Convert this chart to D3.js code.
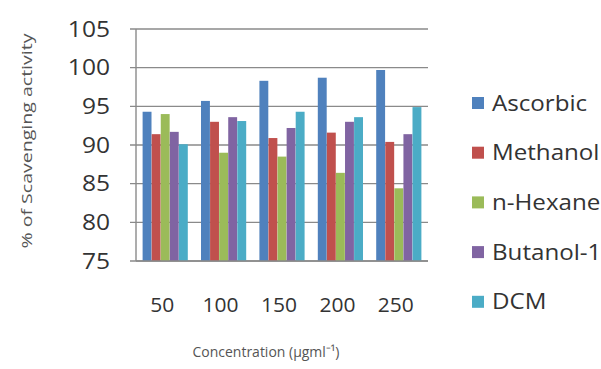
<!DOCTYPE html>
<html>
<head>
<meta charset="utf-8">
<script src="https://cdn.jsdelivr.net/npm/d3@7"></script>
<style>
  html, body { margin: 0; padding: 0; background: #fff; }
  svg { display: block; }
</style>
</head>
<body>
<svg id="chart" width="601" height="369"></svg>
<script>
// Concentrations (µg/ml) and scavenging activity (%) per extract
const concentrations = ["50", "100", "150", "200", "250"];
const seriesNames = ["Ascorbic", "Methanol", "n-Hexane", "Butanol-1", "DCM"];
const ascorbic  = [94.3, 95.7, 98.3, 98.7, 99.7];
const methanol  = [91.4, 93.0, 90.9, 91.6, 90.4];
const hexane    = [94.0, 89.0, 88.5, 86.4, 84.4];
const butanol   = [91.7, 93.6, 92.2, 93.0, 91.4];
const dcm       = [90.1, 93.1, 94.3, 93.6, 94.9];
const yTicks    = [75, 80, 85, 90, 95, 100, 105];
const colors    = ["#4F81BD", "#C0504D", "#9BBB59", "#8064A2", "#4BACC6"];

const seriesValues = [ascorbic, methanol, hexane, butanol, dcm];
const font = "'Open Sans', sans-serif";
const textColor = "#333";

const svg = d3.select("#chart");
const plot = { left: 136, right: 428, top: 29, bottom: 261 };

const x0 = d3.scaleBand()
  .domain(concentrations)
  .range([plot.left, plot.right])
  .paddingInner(0.22)
  .paddingOuter(0.11);

const x1 = d3.scaleBand()
  .domain(seriesNames)
  .range([0, x0.bandwidth()])
  .padding(0.02);

const y = d3.scaleLinear().domain([75, 105]).range([plot.bottom, plot.top]);

// Horizontal gridlines with short outer ticks
svg.append("g")
  .selectAll("line")
  .data(yTicks)
  .join("line")
  .attr("x1", plot.left - 6)
  .attr("x2", plot.right)
  .attr("y1", d => y(d))
  .attr("y2", d => y(d))
  .attr("stroke", "#8a8a8a")
  .attr("stroke-width", 1.4);

// Y tick labels (slightly widened glyphs)
svg.append("g")
  .selectAll("text")
  .data(yTicks)
  .join("text")
  .attr("transform", d => `translate(110,${y(d)}) scale(1.17,1)`)
  .attr("dy", "0.36em")
  .attr("text-anchor", "end")
  .attr("font-family", font)
  .attr("font-size", 21)
  .attr("fill", textColor)
  .text(d => d);

// Vertical axis line
svg.append("line")
  .attr("x1", plot.left).attr("x2", plot.left)
  .attr("y1", plot.top).attr("y2", plot.bottom)
  .attr("stroke", "#8a8a8a")
  .attr("stroke-width", 1.4);

// Bars
const groups = svg.append("g")
  .selectAll("g")
  .data(concentrations)
  .join("g")
  .attr("transform", d => `translate(${x0(d)},0)`);

groups.selectAll("rect")
  .data((c, i) => seriesNames.map((s, k) => ({ s, k, v: seriesValues[k][i] })))
  .join("rect")
  .attr("x", d => x1(d.s))
  .attr("width", x1.bandwidth())
  .attr("y", d => y(d.v))
  .attr("height", d => y(75) - y(d.v))
  .attr("fill", d => colors[d.k]);

// Bottom axis line
svg.append("line")
  .attr("x1", plot.left).attr("x2", plot.right)
  .attr("y1", plot.bottom).attr("y2", plot.bottom)
  .attr("stroke", "#8a8a8a")
  .attr("stroke-width", 1.4);

// X tick labels
svg.append("g")
  .selectAll("text")
  .data(concentrations)
  .join("text")
  .attr("transform", d => `translate(${x0(d) + x0.bandwidth() / 2 - 3},305) scale(1.05,1)`)
  .attr("dy", "0.36em")
  .attr("text-anchor", "middle")
  .attr("font-family", font)
  .attr("font-size", 20)
  .attr("fill", textColor)
  .text(d => d);

// Axis titles
svg.append("text")
  .attr("x", 266)
  .attr("y", 352)
  .attr("dy", "0.36em")
  .attr("text-anchor", "middle")
  .attr("font-family", font)
  .attr("font-size", 15)
  .attr("textLength", 147)
  .attr("lengthAdjust", "spacingAndGlyphs")
  .attr("fill", "#555")
  .text("Concentration (µgml⁻¹)");

svg.append("text")
  .attr("transform", "translate(27,141) rotate(-90)")
  .attr("dy", "0.36em")
  .attr("text-anchor", "middle")
  .attr("font-family", font)
  .attr("font-size", 15)
  .attr("textLength", 215)
  .attr("lengthAdjust", "spacingAndGlyphs")
  .attr("fill", "#555")
  .text("% of Scavenging activity");

// Legend
const legend = svg.append("g")
  .selectAll("g")
  .data(seriesNames)
  .join("g")
  .attr("transform", (d, i) => `translate(472,${103 + i * 49.7})`);

legend.append("rect")
  .attr("x", 0).attr("y", -6)
  .attr("width", 12).attr("height", 12)
  .attr("fill", (d, i) => colors[i]);

legend.append("text")
  .attr("transform", "translate(20,0) scale(1.15,1)")
  .attr("dy", "0.36em")
  .attr("font-family", font)
  .attr("font-size", 21)
  .attr("fill", textColor)
  .text(d => d);
</script>
</body>
</html>
